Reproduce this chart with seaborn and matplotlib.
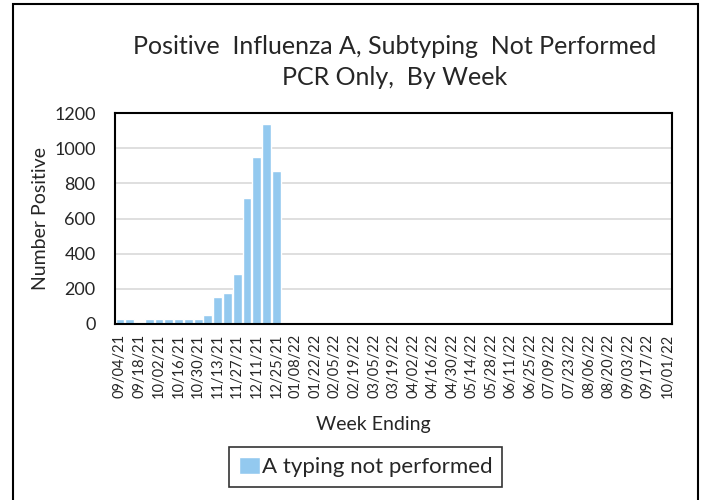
import pandas as pd
import numpy as np
import seaborn as sns
import matplotlib.pyplot as plt
from matplotlib.patches import Rectangle

# weekly counts, week ending 09/04/21 through 10/01/22
weeks = pd.date_range('2021-09-04', '2022-10-01', freq='7D').strftime('%m/%d/%y').tolist()
counts_reported = [28, 28, 0, 28, 28, 28, 28, 28, 28, 51, 152, 176, 286, 717, 950, 1137, 872]
counts = counts_reported + [0] * (len(weeks) - len(counts_reported))
series_name = 'A typing not performed'
yticks = [0, 200, 400, 600, 800, 1000, 1200]

df = pd.DataFrame({'week': weeks, 'count': counts})

sns.set_style('white')
plt.rcParams['font.family'] = ['Lato', 'DejaVu Sans']

fig = plt.figure(figsize=(7.07, 5.0), dpi=100)
ax = fig.add_axes([0.1627, 0.352, 0.788, 0.422])

sns.barplot(data=df, x='week', y='count', color='#93C9EF', saturation=1,
            width=0.9, label=series_name, ax=ax)

ax.set_ylim(0, 1200)
ax.set_yticks(yticks)
ax.set_yticklabels([str(t) for t in yticks], fontsize=13)
ax.yaxis.grid(True, color='#d9d9d9', linewidth=1.2)
ax.set_axisbelow(True)
ax.tick_params(axis='y', length=0, pad=14)
ax.tick_params(axis='x', length=0, pad=7)

# only every other week gets a label
ax.set_xticks(range(0, len(weeks), 2))
ax.set_xticklabels(weeks[::2], rotation=90, fontsize=10.5)
ax.set_xlim(-0.5, len(weeks) - 0.5)

for s in ax.spines.values():
    s.set_color('black')
    s.set_linewidth(1.5)

ax.set_ylabel('Number Positive', fontsize=14)
ax.yaxis.set_label_coords(-0.118, 0.5)
ax.set_xlabel('Week Ending', fontsize=14)
ax.xaxis.set_label_coords(0.463, -0.435)

fig.text(0.558, 0.906, 'Positive  Influenza A, Subtyping  Not Performed',
         ha='center', va='center', fontsize=18)
fig.text(0.558, 0.845, 'PCR Only,  By Week', ha='center', va='center', fontsize=18)

leg = ax.legend(loc='center', bbox_to_anchor=(0.517, 0.066),
                bbox_transform=fig.transFigure, fontsize=16, frameon=True,
                fancybox=False, edgecolor='black', handlelength=0.95,
                handleheight=0.8, handletextpad=0.1, borderpad=0.45,
                borderaxespad=0)
leg.get_frame().set_linewidth(1.2)

# outer chart border
fig.patches.append(Rectangle((13 / 707, -0.02), 685 / 707, 0.006 + 493 / 500 + 0.02,
                             transform=fig.transFigure, fill=False,
                             edgecolor='black', linewidth=1.5))

fig.savefig('out.png', dpi=100)
